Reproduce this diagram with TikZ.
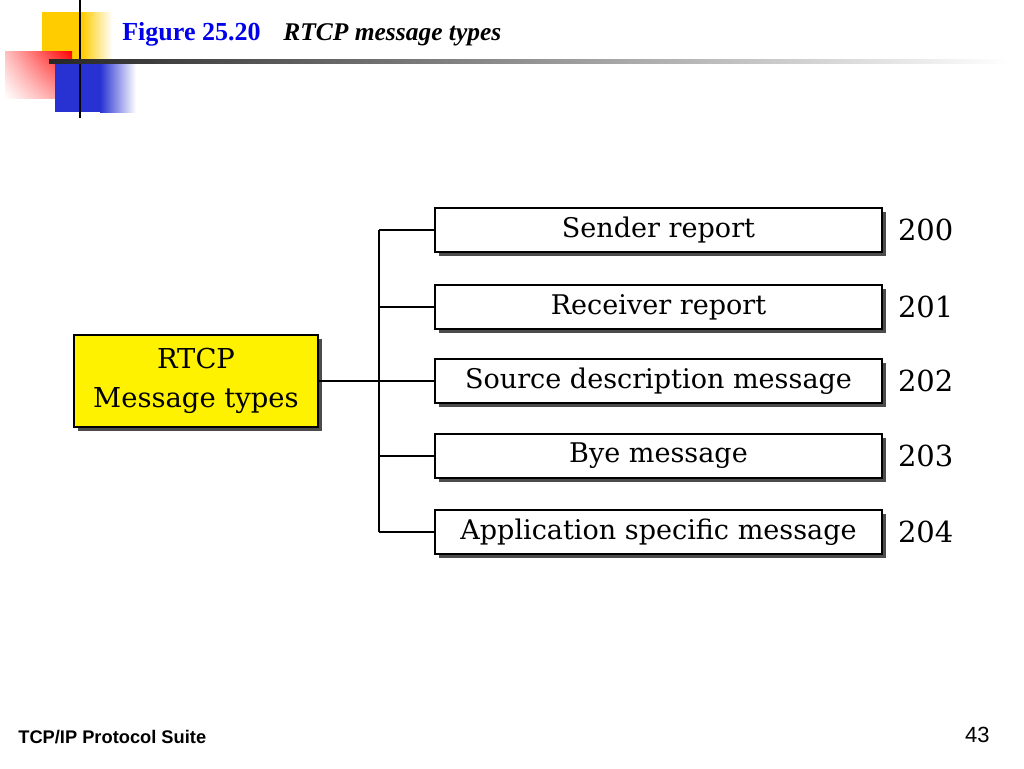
\documentclass[tikz,border=0pt]{standalone}
\usepackage{fontspec}
\newfontfamily\titlefont{Liberation Serif}
\newfontfamily\footfont{Liberation Sans}
\newfontfamily\boxfont{DejaVu Serif}
\usetikzlibrary{positioning, calc, shadows, shadings}
\definecolor{slideblue}{RGB}{40,50,210}
\definecolor{slideyellow}{RGB}{255,204,0}
\definecolor{figblue}{RGB}{0,0,235}

\begin{document}
\begin{tikzpicture}[x=0.02cm, y=-0.02cm,
		msgbox/.style={draw, line width=0.8pt, fill=white, minimum width=8.94cm, minimum height=0.88cm, inner sep=0pt, font=\boxfont\fontsize{15.4}{18}\selectfont, drop shadow={shadow xshift=2.2pt, shadow yshift=-2.2pt, fill=black!70, opacity=1}},
		msgnum/.style={font=\boxfont\fontsize{16.5}{20}\selectfont},
		link/.style={line width=1.1pt}]
		\useasboundingbox (0, 0) rectangle (1024, 768);
		
		% slide decoration
		\fill[slideyellow] (42, 12) rectangle (82, 60);
		\shade[left color=slideyellow, right color=white] (82, 12) rectangle (112, 60);
		\shade[upper right=red, upper left=red!25, lower right=red!45, lower left=white] (5, 51) rectangle (72, 98);
		\fill[slideblue] (55, 62) rectangle (100, 112);
		\shade[left color=slideblue, right color=white] (100, 62) rectangle (136, 112);
		\draw[line width=1.6pt] (80, 0) -- (80, 118);
		\shade[left color=black!85, right color=white] (49, 59) rectangle (1010, 63);
		
		\node[anchor=base west, inner sep=0pt, text=figblue, font=\titlefont\bfseries\fontsize{14.8}{17}\selectfont] (fig) at (122, 40) {Figure 25.20};
		\node[anchor=base west, inner sep=0pt, font=\titlefont\bfseries\itshape\fontsize{14.5}{17}\selectfont] (title) at (283, 40) {RTCP message types};
		
		% diagram
		\node[draw, line width=0.8pt, fill=yellow, minimum width=4.88cm, minimum height=1.84cm, align=center, font=\boxfont\fontsize{15.6}{22.5}\selectfont, drop shadow={shadow xshift=2.2pt, shadow yshift=-2.2pt, fill=black!70, opacity=1}] (rtcp) at (196, 381) {RTCP\\Message types};
		
		\node[msgbox] (sr) at (658.5, 230) {Sender report};
		\node[msgbox] (rr) at (658.5, 307) {Receiver report};
		\node[msgbox] (sdes) at (658.5, 381) {Source description message};
		\node[msgbox] (bye) at (658.5, 456) {Bye message};
		\node[msgbox] (app) at (658.5, 532) {Application specific message};
		
		\node[msgnum] (n200) at ($(sr.east) + (43, 0)$) {200};
		\node[msgnum] (n201) at ($(rr.east) + (43, 0)$) {201};
		\node[msgnum] (n202) at ($(sdes.east) + (43, 0)$) {202};
		\node[msgnum] (n203) at ($(bye.east) + (43, 0)$) {203};
		\node[msgnum] (n204) at ($(app.east) + (43, 0)$) {204};
		
		\coordinate (J) at (379, 381);
		\draw[link] (rtcp.east) -- (J);
		\draw[link] (J |- sr.west) -- (J |- app.west);
		\draw[link] (J |- sr.west) -- (sr.west);
		\draw[link] (J |- rr.west) -- (rr.west);
		\draw[link] (J |- sdes.west) -- (sdes.west);
		\draw[link] (J |- bye.west) -- (bye.west);
		\draw[link] (J |- app.west) -- (app.west);
		
		% footer
		\node[anchor=base west, inner sep=0pt, font=\footfont\bfseries\fontsize{10.4}{12}\selectfont] (suite) at (18, 743) {TCP/IP Protocol Suite};
		\node[anchor=base east, inner sep=0pt, font=\footfont\fontsize{12.5}{14}\selectfont] (page) at (990, 742) {43};
	\end{tikzpicture}
\end{document}
